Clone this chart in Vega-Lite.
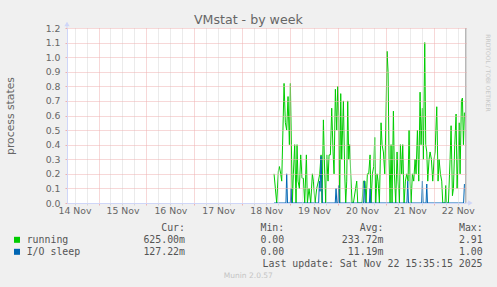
{
  "$schema": "https://vega.github.io/schema/vega-lite/v6.json",
  "width": 399,
  "height": 175,
  "autosize": {"type": "none"},
  "padding": {"left": 67, "top": 28, "right": 31, "bottom": 84},
  "background": "#f0f0f0",
  "config": {"view": {"fill": "#ffffff", "stroke": null}, "font": "DejaVu Sans"},
  "datasets": {
    "running": [
      {"h":111.94,"v":0.2},{"h":113.27,"v":0},{"h":114.11,"v":0.22},{"h":114.61,"v":0.25},{"h":115.28,"v":0.2},{"h":115.78,"v":0.15},
      {"h":116.95,"v":0.82},{"h":117.61,"v":0.55},{"h":118.28,"v":0.5},{"h":118.95,"v":0.73},{"h":119.62,"v":0.4},{"h":120.12,"v":0.82},
      {"h":120.62,"v":0.4},{"h":121.12,"v":0},{"h":121.62,"v":0.2},{"h":122.29,"v":0.4},{"h":122.96,"v":0},{"h":123.46,"v":0.4},
      {"h":123.96,"v":0.15},{"h":124.63,"v":0.1},{"h":125.3,"v":0.33},{"h":125.97,"v":0.17},{"h":126.63,"v":0.17},{"h":127.3,"v":0},
      {"h":128.14,"v":0.33},{"h":128.64,"v":0},{"h":129.47,"v":0.1},{"h":130.31,"v":0},{"h":131.14,"v":0.2},{"h":131.64,"v":0.15},
      {"h":132.48,"v":0},{"h":133.32,"v":0.1},{"h":134.15,"v":0.15},{"h":134.82,"v":0.2},{"h":135.49,"v":0.33},{"h":135.99,"v":0},
      {"h":136.66,"v":0.57},{"h":137.32,"v":0.2},{"h":137.83,"v":0},{"h":138.33,"v":0.33},{"h":138.99,"v":0.15},{"h":139.5,"v":0.33},
      {"h":140.16,"v":0.33},{"h":140.83,"v":0.65},{"h":141.5,"v":0.35},{"h":142,"v":0.2},{"h":142.67,"v":0.78},{"h":143.34,"v":0.5},
      {"h":143.84,"v":0.8},{"h":144.34,"v":0.6},{"h":144.84,"v":0},{"h":145.34,"v":0.75},{"h":145.84,"v":0.3},{"h":146.68,"v":0.7},
      {"h":147.35,"v":0.2},{"h":147.85,"v":0},{"h":148.35,"v":0.15},{"h":148.85,"v":0.7},{"h":149.35,"v":0.3},{"h":149.85,"v":0.4},
      {"h":150.35,"v":0.2},{"h":151.02,"v":0},{"h":151.69,"v":0},{"h":153.36,"v":0.15},{"h":153.86,"v":0},{"h":156.03,"v":0},
      {"h":156.7,"v":0.15},{"h":157.53,"v":0.15},{"h":158.04,"v":0},{"h":158.7,"v":0.2},{"h":159.37,"v":0.2},{"h":160.04,"v":0.33},
      {"h":160.54,"v":0},{"h":161.21,"v":0.2},{"h":161.88,"v":0.25},{"h":162.38,"v":0.45},{"h":162.88,"v":0},{"h":163.55,"v":0.2},
      {"h":164.05,"v":0.15},{"h":164.72,"v":0},{"h":165.55,"v":0.55},{"h":166.05,"v":0.4},{"h":166.72,"v":0.35},{"h":167.39,"v":0.2},
      {"h":167.89,"v":0.5},{"h":168.56,"v":1.04},{"h":169.06,"v":0.9},{"h":169.56,"v":0.3},{"h":170.06,"v":0},{"h":170.56,"v":0.4},
      {"h":171.06,"v":0},{"h":171.73,"v":0.63},{"h":172.23,"v":0.2},{"h":172.9,"v":0},{"h":173.57,"v":0.35},{"h":174.07,"v":0.15},
      {"h":174.74,"v":0},{"h":175.24,"v":0.4},{"h":175.91,"v":0.2},{"h":176.41,"v":0.4},{"h":177.08,"v":0},{"h":177.75,"v":0.15},
      {"h":178.41,"v":0.2},{"h":179.08,"v":0.15},{"h":179.58,"v":0.5},{"h":180.08,"v":0.15},{"h":180.58,"v":0},{"h":181.25,"v":0.2},
      {"h":181.92,"v":0.15},{"h":182.59,"v":0.3},{"h":183.09,"v":0.2},{"h":183.76,"v":0.5},{"h":184.43,"v":0.15},{"h":185.09,"v":0.76},
      {"h":185.59,"v":0.4},{"h":186.26,"v":0.65},{"h":186.76,"v":0.3},{"h":187.43,"v":1.1},{"h":187.93,"v":0.4},{"h":188.44,"v":0.35},
      {"h":188.94,"v":0.15},{"h":189.6,"v":0.3},{"h":190.11,"v":0.35},{"h":190.77,"v":0.3},{"h":191.44,"v":0.15},{"h":192.11,"v":0.3},
      {"h":192.61,"v":0.35},{"h":193.45,"v":0.66},{"h":194.11,"v":0.15},{"h":194.62,"v":0.3},{"h":195.28,"v":0.2},{"h":195.95,"v":0.15},
      {"h":196.45,"v":0},{"h":197.6,"v":0},{"h":198.0,"v":0.12},{"h":198.4,"v":0},{"h":199.29,"v":0},{"h":200.13,"v":0.3},
      {"h":200.63,"v":0.53},{"h":201.3,"v":0.05},{"h":201.8,"v":0.1},{"h":202.47,"v":0.4},{"h":203.13,"v":0.61},{"h":203.64,"v":0.1},
      {"h":204.14,"v":0.3},{"h":204.64,"v":0.55},{"h":205.14,"v":0.2},{"h":205.81,"v":0.7},{"h":206.31,"v":0.72},{"h":206.81,"v":0.4},
      {"h":207.31,"v":0.62}
    ],
    "io": [
      {"h":111.94,"v":0},{"h":117.9,"v":0},{"h":118.28,"v":0.2},{"h":118.7,"v":0},{"h":120.1,"v":0},{"h":120.45,"v":0.1},{"h":120.8,"v":0},
      {"h":134.3,"v":0},{"h":134.65,"v":0.15},{"h":135.0,"v":0.08},{"h":135.49,"v":0.32},{"h":136.15,"v":0},
      {"h":142.6,"v":0},{"h":143.0,"v":0.1},{"h":143.4,"v":0},{"h":144.0,"v":0},{"h":144.34,"v":0.12},{"h":144.7,"v":0},
      {"h":156.8,"v":0},{"h":157.2,"v":0.15},{"h":157.6,"v":0},{"h":159.7,"v":0},{"h":160.04,"v":0.1},{"h":160.4,"v":0},
      {"h":178.5,"v":0},{"h":178.91,"v":0.15},{"h":179.3,"v":0},{"h":185.9,"v":0},{"h":186.26,"v":0.15},{"h":186.6,"v":0},
      {"h":188.1,"v":0},{"h":188.44,"v":0.13},{"h":188.8,"v":0},{"h":206.9,"v":0},{"h":207.31,"v":0.13}
    ],
    "series": [{"series": "running"}, {"series": "I/O sleep"}],
    "legend": [
      {"col": "Cur", "lines": ["Cur:\u00a0\u00a0", "625.00m", "127.22m"]},
      {"col": "Min", "lines": ["Min:\u00a0\u00a0", "0.00\u00a0", "0.00\u00a0"]},
      {"col": "Avg", "lines": ["Avg:\u00a0\u00a0", "233.72m", "11.19m"]},
      {"col": "Max", "lines": ["Max:\u00a0\u00a0", "2.91\u00a0", "1.00\u00a0"]}
    ]
  },
  "layer": [
    {
      "data": {"name": "running"},
      "mark": {"type": "line", "color": "#00cc00", "strokeWidth": 1, "clip": true},
      "encoding": {
        "x": {
          "field": "h", "type": "quantitative",
          "scale": {"domain": [8.22, 208.1], "nice": false, "zero": false},
          "axis": {
            "title": null,
            "values": [12,18,24,30,36,42,48,54,60,66,72,78,84,90,96,102,108,114,120,126,132,138,144,150,156,162,168,174,180,186,192,198,204],
            "tickCount": 40,
            "grid": true,
            "gridColor": {"condition": {"test": "datum.value % 24 === 0", "value": "#efb0b0"}, "value": "#d6d6d6"},
            "gridDash": [1, 1],
            "ticks": true, "tickSize": 2,
            "tickColor": {"condition": {"test": "datum.value % 24 === 0", "value": "#efb0b0"}, "value": "#d6d6d6"},
            "domainColor": "#cfd6f8",
            "labelExpr": "datum.value % 24 === 12 ? (floor(datum.value / 24) + 14) + ' Nov' : ''",
            "labelFont": "DejaVu Sans", "labelFontSize": 9.3, "labelColor": "#666666",
            "labelPadding": 1, "labelFlush": false, "labelOverlap": false, "labelBound": false,
            "zindex": 1
          }
        },
        "y": {
          "field": "v", "type": "quantitative",
          "scale": {"domain": [0, 1.2], "nice": false},
          "axis": {
            "title": "process states",
            "titleFont": "DejaVu Sans", "titleFontSize": 10.8, "titleFontWeight": "normal", "titleColor": "#666666",
            "titleX": -56.5, "titleY": 87.5, "titleBaseline": "middle", "titleAnchor": "middle",
            "values": [0,0.1,0.2,0.3,0.4,0.5,0.6,0.7,0.8,0.9,1,1.1,1.2],
            "tickCount": 13,
            "format": ".1f",
            "grid": true,
            "gridColor": {"condition": {"test": "datum.value === 0", "value": "#ffffff"}, "value": "#efb0b0"},
            "gridDash": [1, 1],
            "tickSize": 2, "tickColor": "#efb0b0",
            "domainColor": "#cfd6f8",
            "labelFont": "DejaVu Sans", "labelFontSize": 9.3, "labelColor": "#666666", "labelPadding": 5,
            "labelBound": false, "labelFlush": false, "labelOverlap": false,
            "zindex": 1
          }
        }
      }
    },
    {
      "data": {"name": "io"},
      "mark": {"type": "line", "color": "#0066b3", "strokeWidth": 1, "clip": true},
      "encoding": {
        "x": {"field": "h", "type": "quantitative"},
        "y": {"field": "v", "type": "quantitative"}
      }
    },
    {
      "data": {"values": [{}]},
      "mark": {"type": "rule", "color": "#999999", "strokeWidth": 1},
      "encoding": {"x": {"datum": 208.0}, "y": {"datum": 0}, "y2": {"datum": 1.2}}
    },
    {
      "data": {"values": [{}]},
      "mark": {"type": "rule", "color": "#cfd6f8", "strokeWidth": 1},
      "encoding": {"x": {"datum": 8.22}, "y": {"datum": 1.2}, "y2": {"datum": 1.235}}
    },
    {
      "data": {"values": [{}]},
      "mark": {"type": "rule", "color": "#cfd6f8", "strokeWidth": 1},
      "encoding": {"x": {"datum": 208.0}, "x2": {"datum": 210.5}, "y": {"datum": 0}}
    },
    {
      "data": {"values": [{}]},
      "mark": {"type": "point", "shape": "triangle-up", "filled": true, "color": "#cfd6f8", "size": 28, "opacity": 1},
      "encoding": {"x": {"datum": 8.22}, "y": {"datum": 1.2274}}
    },
    {
      "data": {"values": [{}]},
      "mark": {"type": "point", "shape": "triangle-right", "filled": true, "color": "#cfd6f8", "size": 28, "opacity": 1},
      "encoding": {"x": {"datum": 210.3}, "y": {"datum": 0}}
    },
    {
      "data": {"values": [{"t": "VMstat - by week"}]},
      "mark": {"type": "text", "align": "center", "baseline": "alphabetic", "font": "DejaVu Sans", "fontSize": 12.6, "color": "#666666"},
      "encoding": {"x": {"datum": 99.06}, "y": {"datum": 1.2274}, "text": {"field": "t"}}
    },
    {
      "data": {"name": "series"},
      "mark": {"type": "point", "shape": "square", "filled": true, "size": 36, "opacity": 1},
      "encoding": {
        "x": {"datum": -16.84},
        "y": {"datum": -0.2524},
        "yOffset": {"field": "series", "type": "nominal", "scale": {"type": "point", "domain": ["running", "I/O sleep"], "range": [0, 12], "padding": 0}},
        "color": {"field": "series", "type": "nominal", "scale": {"domain": ["running", "I/O sleep"], "range": ["#00cc00", "#0066b3"]}, "legend": null}
      }
    },
    {
      "data": {"name": "series"},
      "mark": {"type": "text", "align": "left", "baseline": "alphabetic", "font": "DejaVu Sans Mono", "fontSize": 9.9, "color": "#555555"},
      "encoding": {
        "x": {"datum": -11.98},
        "y": {"datum": -0.2743},
        "yOffset": {"field": "series", "type": "nominal", "scale": {"type": "point", "domain": ["running", "I/O sleep"], "range": [0, 12], "padding": 0}},
        "text": {"field": "series"}
      }
    },
    {
      "data": {"name": "legend"},
      "mark": {"type": "text", "align": "right", "baseline": "alphabetic", "font": "DejaVu Sans Mono", "fontSize": 9.9, "lineHeight": 12, "color": "#555555"},
      "encoding": {
        "x": {"datum": 67.34},
        "y": {"datum": -0.192},
        "xOffset": {"field": "col", "type": "nominal", "scale": {"type": "point", "domain": ["Cur", "Min", "Avg", "Max"], "range": [0, 297.7], "padding": 0}},
        "text": {"field": "lines"}
      }
    },
    {
      "data": {"values": [{"t": "Last update: Sat Nov 22 15:35:15 2025"}]},
      "mark": {"type": "text", "align": "right", "baseline": "alphabetic", "font": "DejaVu Sans Mono", "fontSize": 9.9, "color": "#555555"},
      "encoding": {"x": {"datum": 216.4}, "y": {"datum": -0.4389}, "text": {"field": "t"}}
    },
    {
      "data": {"values": [{"t": "Munin 2.0.57"}]},
      "mark": {"type": "text", "align": "center", "baseline": "alphabetic", "font": "DejaVu Sans", "fontSize": 7.5, "color": "#c4c4c4"},
      "encoding": {"x": {"datum": 99.06}, "y": {"datum": -0.5177}, "text": {"field": "t"}}
    },
    {
      "data": {"values": [{"t": "RRDTOOL / TOBI OETIKER"}]},
      "mark": {"type": "text", "align": "center", "baseline": "middle", "angle": 90, "font": "DejaVu Sans", "fontSize": 6, "color": "#c8c8c8"},
      "encoding": {"x": {"datum": 219.16}, "y": {"datum": 0.8914}, "text": {"field": "t"}}
    }
  ]
}
